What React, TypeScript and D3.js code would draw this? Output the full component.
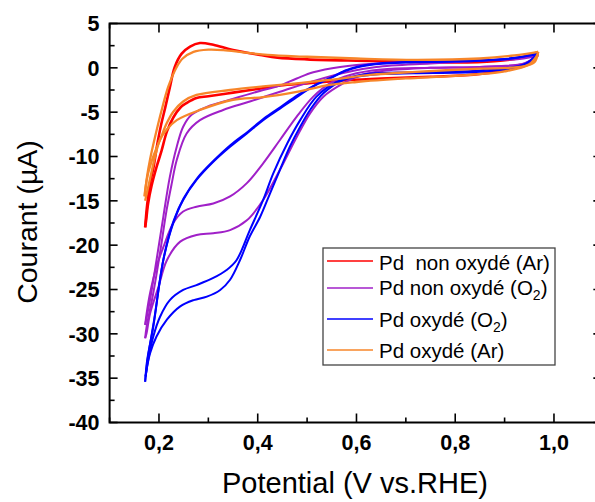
import React from "react";
import * as d3 from "d3";

type Pt = [number, number];

// Potential (V vs RHE), current (µA)
const xTicksMajor = [0.2, 0.4, 0.6, 0.8, 1.0];
const xTicksMinor = [0.1, 0.3, 0.5, 0.7, 0.9, 1.1];
const yTicksMajor = [5, 0, -5, -10, -15, -20, -25, -30, -35, -40];
const yTicksMinor = [2.5, -2.5, -7.5, -12.5, -17.5, -22.5, -27.5, -32.5, -37.5];

// Pd non oxydé (Ar)
const redAnodic: Pt[] = [
  [0.172, -18], [0.176, -15.5], [0.182, -13], [0.189, -11.2], [0.196, -8.8], [0.204, -6.5],
  [0.213, -4.4], [0.222, -2.2], [0.232, 0.1], [0.246, 1.6], [0.263, 2.4], [0.283, 2.8],
  [0.31, 2.6], [0.35, 2.0], [0.405, 1.45], [0.44, 1.15], [0.5, 0.95], [0.6, 0.8],
  [0.7, 0.7], [0.8, 0.6], [0.88, 0.75], [0.93, 1.1], [0.968, 1.8],
];
const redCathodic: Pt[] = [
  [0.968, 1.8], [0.955, 0.8], [0.93, 0.1], [0.85, -0.7], [0.75, -1.0], [0.65, -1.2],
  [0.58, -1.4], [0.5, -1.75], [0.445, -2.0], [0.41, -2.3], [0.35, -2.8], [0.3, -3.2],
  [0.276, -3.4], [0.255, -4.0], [0.243, -4.5], [0.229, -5.6], [0.216, -7.2], [0.205, -9.4],
  [0.195, -11.2], [0.185, -13.3], [0.178, -15.3], [0.174, -17.2], [0.172, -18],
];

// Pd non oxydé (O2)
const purpleCathodic1: Pt[] = [
  [0.968, 1.5], [0.94, 0.5], [0.85, 0.1], [0.75, 0], [0.66, -0.3], [0.61, -0.8],
  [0.573, -1.75], [0.533, -3.25], [0.506, -5.13], [0.479, -7.8], [0.445, -11.5],
  [0.411, -14.9], [0.378, -17.2], [0.344, -18.3], [0.31, -18.66], [0.276, -18.85],
  [0.243, -19.6], [0.216, -21.7], [0.199, -24.7], [0.182, -27.7], [0.175, -29.9], [0.172, -30.5],
];
const purpleAnodic1: Pt[] = [
  [0.172, -30.5], [0.175, -29.2], [0.1885, -25.4], [0.202, -20.9], [0.2156, -16],
  [0.226, -13.0], [0.236, -10.4], [0.256, -7.4], [0.283, -5.9], [0.33, -4.75],
  [0.384, -3.8], [0.445, -2.7], [0.5125, -1.5], [0.58, -0.5], [0.64, 0.1], [0.75, 0.5],
  [0.85, 0.8], [0.93, 1.1], [0.968, 1.5],
];
const purpleCathodic2: Pt[] = [
  [0.968, 1.4], [0.94, 0.5], [0.85, 0.1], [0.75, 0], [0.65, -0.2], [0.587, -0.81],
  [0.546, -1.75], [0.5125, -3.25], [0.479, -5.5], [0.445, -8.14], [0.411, -10.77],
  [0.378, -13.0], [0.344, -14.5], [0.31, -15.3], [0.276, -15.66], [0.249, -16.2],
  [0.229, -17.5], [0.209, -20.2], [0.195, -22.4], [0.182, -25.4], [0.175, -27.7], [0.172, -29],
];
const purpleAnodic2: Pt[] = [
  [0.172, -29], [0.1818, -26.2], [0.195, -21.7], [0.2088, -16.8], [0.222, -12.3],
  [0.236, -8.9], [0.249, -6.64], [0.266, -5.3], [0.297, -4.4], [0.344, -3.6],
  [0.411, -2.5], [0.445, -2.0], [0.479, -1.2], [0.5125, -0.5], [0.567, 0.1], [0.64, 0.5],
  [0.75, 0.7], [0.85, 0.85], [0.93, 1.0], [0.968, 1.4],
];

// Pd oxydé (O2)
const blueCathodic1: Pt[] = [
  [0.968, 1.6], [0.945, 0.32], [0.85, -0.44], [0.715, -0.6], [0.65, -0.7], [0.6275, -0.81],
  [0.5733, -1.37], [0.533, -2.87], [0.506, -4.75], [0.486, -6.64], [0.465, -8.9],
  [0.445, -11.5], [0.425, -14.15], [0.405, -16.8], [0.384, -19.0], [0.364, -21.7],
  [0.344, -23.9], [0.324, -25.05], [0.297, -25.8], [0.27, -26.2], [0.243, -26.9],
  [0.216, -28.4], [0.195, -30.3], [0.182, -32.2], [0.174, -34.4], [0.172, -35.4],
];
const blueAnodic1: Pt[] = [
  [0.172, -35.4], [0.176, -33], [0.1885, -29.2], [0.2088, -21.7], [0.229, -17.5],
  [0.249, -14.9], [0.276, -12.65], [0.31, -10.6], [0.344, -8.9], [0.378, -7.4],
  [0.411, -5.9], [0.445, -4.6], [0.479, -3.3], [0.5125, -2.1], [0.546, -1.2],
  [0.58, -0.3], [0.627, 0.32], [0.7, 0.6], [0.783, 0.69], [0.85, 0.8], [0.918, 1.07], [0.965, 1.64],
];
const blueCathodic2: Pt[] = [
  [0.965, 1.5], [0.94, 0.4], [0.85, -0.3], [0.715, -0.5], [0.62, -0.7], [0.56, -1.6],
  [0.519, -3.25], [0.486, -5.9], [0.46, -8.5], [0.4315, -11.9], [0.411, -14.9],
  [0.384, -18.3], [0.357, -21.7], [0.337, -22.8], [0.31, -23.7], [0.276, -24.5],
  [0.249, -25.05], [0.222, -26.2], [0.202, -28.1], [0.1885, -30.3], [0.178, -33], [0.173, -34.8],
];
const blueAnodic2: Pt[] = [
  [0.173, -34.8], [0.178, -32.5], [0.19, -28.5], [0.21, -21.3], [0.23, -17.2],
  [0.25, -14.7], [0.278, -12.4], [0.312, -10.4], [0.345, -8.7], [0.38, -7.2],
  [0.413, -5.7], [0.447, -4.4], [0.48, -3.1], [0.514, -2.0], [0.548, -1.1],
  [0.582, -0.2], [0.63, 0.4], [0.7, 0.65], [0.8, 0.75], [0.9, 1.0], [0.965, 1.5],
];

// Pd oxydé (Ar)
const orangeAnodic: Pt[] = [
  [0.171, -14.5], [0.176, -12.2], [0.182, -10.3], [0.192, -7.8], [0.2055, -4.75],
  [0.219, -2.1], [0.236, 0.1], [0.248, 1.05], [0.27, 1.8], [0.3, 2.05], [0.33, 2.0],
  [0.37, 1.75], [0.42, 1.45], [0.5, 1.25], [0.6, 1.05], [0.72, 0.9], [0.85, 1.05],
  [0.92, 1.4], [0.968, 1.8],
];
const orangeCathodic1: Pt[] = [
  [0.968, 1.8], [0.96, 0.6], [0.93, 0.1], [0.85, -0.1], [0.72, -0.45], [0.627, -0.8],
  [0.546, -1.37], [0.479, -1.75], [0.411, -2.1], [0.344, -2.5], [0.276, -3.06],
  [0.249, -3.8], [0.229, -4.95], [0.2156, -6.26], [0.202, -8.14], [0.1885, -10.0],
  [0.178, -11.9], [0.172, -13.8], [0.171, -14.5],
];
const orangeCathodic2: Pt[] = [
  [0.968, 1.6], [0.95, 0.4], [0.9, -0.4], [0.8, -0.9], [0.7, -1.2], [0.6, -1.6],
  [0.546, -1.93], [0.479, -2.7], [0.411, -3.3], [0.35, -3.6], [0.283, -4.75],
  [0.236, -5.9], [0.215, -7.0], [0.202, -8.1], [0.19, -10.5], [0.18, -13], [0.172, -15],
];

const seriesNames = ["Pd  non oxydé (Ar)", "Pd non oxydé (O2)", "Pd oxydé (O2)", "Pd oxydé (Ar)"];
const seriesColors = ["#ff0000", "#a020c8", "#0000ff", "#f7862a"];
const seriesWidths = [2.6, 2, 2, 2.3];
const seriesCurves: Pt[][][] = [
  [redAnodic, redCathodic],
  [purpleCathodic1, purpleAnodic1, purpleCathodic2, purpleAnodic2],
  [blueCathodic1, blueAnodic1, blueCathodic2, blueAnodic2],
  [orangeAnodic, orangeCathodic1, orangeCathodic2],
];

const W = 595;
const H = 502;
const FONT = "'Liberation Sans', Arial, sans-serif";

export default function App() {
  const x = d3.scaleLinear().domain([0.1, 1.1]).range([109.6, 603.35]);
  const y = d3.scaleLinear().domain([-40, 5]).range([422.5, 23.5]);
  const line = d3
    .line<Pt>()
    .x((d) => x(d[0]))
    .y((d) => y(d[1]))
    .curve(d3.curveCatmullRom.alpha(0.5));

  const x0 = x(0.1), x1 = x(1.1), y0 = y(-40), y1 = y(5);
  const fmtX = (v: number) => d3.format(".1f")(v).replace(".", ",");

  const legendRows = [
    { lineY: 261, base: 270 },
    { lineY: 288, base: 295 },
    { lineY: 319, base: 326.5 },
    { lineY: 350, base: 358 },
  ];

  const renderLabel = (name: string) => {
    const m = name.match(/^(.*)\(O2\)$/);
    if (m) {
      return (
        <>
          <tspan>{m[1] + "(O"}</tspan>
          <tspan dy={5} fontSize={14}>2</tspan>
          <tspan dy={-5}>)</tspan>
        </>
      );
    }
    return name;
  };

  return (
    <svg
      width={W}
      height={H}
      style={{ position: "absolute", left: 0, top: 0, background: "#fff" }}
      fontFamily={FONT}
    >
      <rect x={0} y={0} width={W} height={H} fill="#fff" />
      {/* curves */}
      {seriesCurves.map((curves, si) => (
        <g
          key={si}
          stroke={seriesColors[si]}
          fill="none"
          strokeWidth={seriesWidths[si]}
          strokeLinejoin="round"
        >
          {curves.map((c, ci) => (
            <path key={ci} d={line(c) || ""} />
          ))}
        </g>
      ))}

      {/* frame */}
      <g stroke="#000" strokeWidth={2} fill="none">
        <rect x={x0} y={y1} width={x1 - x0} height={y0 - y1} />
      </g>
      {/* ticks */}
      <g stroke="#000" strokeWidth={1.6}>
        {xTicksMajor.map((t) => (
          <g key={"xm" + t}>
            <line x1={x(t)} x2={x(t)} y1={y0} y2={y0 - 9} />
            <line x1={x(t)} x2={x(t)} y1={y1} y2={y1 + 9} />
          </g>
        ))}
        {xTicksMinor.map((t) => (
          <g key={"xn" + t}>
            <line x1={x(t)} x2={x(t)} y1={y0} y2={y0 - 5} />
            <line x1={x(t)} x2={x(t)} y1={y1} y2={y1 + 5} />
          </g>
        ))}
        {yTicksMajor.map((t) => (
          <g key={"ym" + t}>
            <line x1={x0} x2={x0 + 8} y1={y(t)} y2={y(t)} />
            <line x1={x1} x2={x1 - 10} y1={y(t)} y2={y(t)} />
          </g>
        ))}
        {yTicksMinor.map((t) => (
          <g key={"yn" + t}>
            <line x1={x0} x2={x0 + 5} y1={y(t)} y2={y(t)} />
            <line x1={x1} x2={x1 - 5} y1={y(t)} y2={y(t)} />
          </g>
        ))}
      </g>
      {/* tick labels */}
      <g fontWeight="bold" fontSize={21.5} fill="#000">
        {xTicksMajor.map((t) => (
          <text key={"xl" + t} x={x(t)} y={450} textAnchor="middle">
            {fmtX(t)}
          </text>
        ))}
        {yTicksMajor.map((t) => (
          <text key={"yl" + t} x={99.5} y={y(t)} dy="0.36em" textAnchor="end">
            {String(t)}
          </text>
        ))}
      </g>
      {/* axis titles */}
      <text x={(x0 + x1) / 2 - 1.5} y={493} textAnchor="middle" fontSize={29} fill="#000">
        Potential (V vs.RHE)
      </text>
      <text
        transform={`translate(37,${(y0 + y1) / 2 - 1}) rotate(-90)`}
        textAnchor="middle"
        fontSize={28.5}
        fill="#000"
      >
        Courant (µA)
      </text>

      {/* legend */}
      <rect x={323} y={248} width={232} height={117} fill="#fff" stroke="#444" strokeWidth={1.3} />
      {seriesNames.map((name, i) => (
        <g key={"lg" + i}>
          <line
            x1={327}
            x2={373}
            y1={legendRows[i].lineY}
            y2={legendRows[i].lineY}
            stroke={seriesColors[i]}
            strokeWidth={1.6}
          />
          <text
            x={379}
            y={legendRows[i].base}
            fontSize={20.5}
            fill="#000"
            style={{ whiteSpace: "pre" }}
          >
            {renderLabel(name)}
          </text>
        </g>
      ))}
    </svg>
  );
}
